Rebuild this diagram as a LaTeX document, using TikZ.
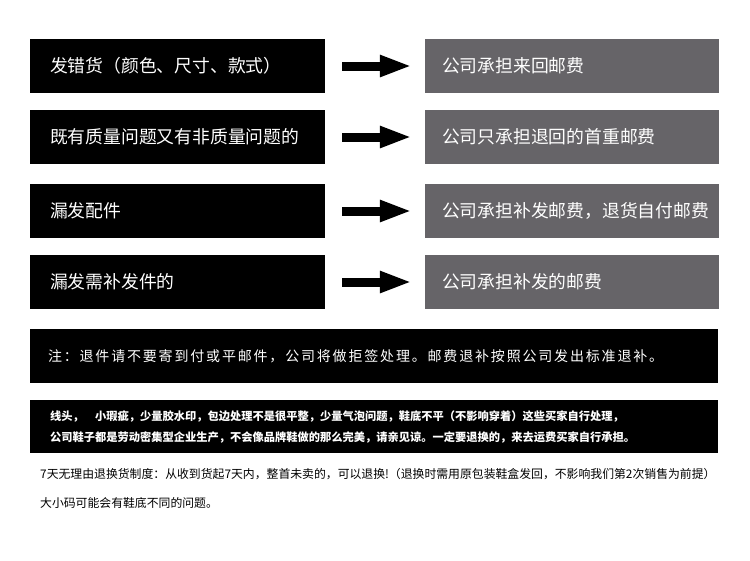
\documentclass[tikz,border=0pt]{standalone}
\usepackage{fontspec}
\setmainfont{Noto Sans CJK SC}
\newfontfamily\notefont[LetterSpace=13]{Noto Sans CJK SC}
\definecolor{costgray}{RGB}{102,100,104}
\usetikzlibrary{arrows.meta}

\begin{document}
\begin{tikzpicture}[x=1pt, y=-1pt,
    casebox/.style={fill=black, text=white, inner xsep=20pt, text width=255pt, minimum height=54pt, align=left, font=\fontsize{17.8}{21}\selectfont},
    costbox/.style={fill=costgray, text=white, inner xsep=17pt, text width=260pt, minimum height=54pt, align=left, font=\fontsize{17.8}{21}\selectfont},
    bigarrow/.style={line width=9pt, -{Triangle[length=32pt,width=20pt]}, shorten <=17pt, shorten >=13pt}]
        \path[fill=white, use as bounding box] (0,0) rectangle (750,560);
        % four cases and who pays
        \node[casebox] (case1) at (177.5,66) {发错货（颜色、尺寸、款式）};
        \node[casebox] (case2) at (177.5,137) {既有质量问题又有非质量问题的};
        \node[casebox] (case3) at (177.5,211) {漏发配件};
        \node[casebox] (case4) at (177.5,282) {漏发需补发件的};
        \node[costbox] (cost1) at (572,66) {公司承担来回邮费};
        \node[costbox] (cost2) at (572,137) {公司只承担退回的首重邮费};
        \node[costbox] (cost3) at (572,211) {公司承担补发邮费，退货自付邮费};
        \node[costbox] (cost4) at (572,282) {公司承担补发的邮费};
        \draw[bigarrow] (case1) -- (cost1);
        \draw[bigarrow] (case2) -- (cost2);
        \draw[bigarrow] (case3) -- (cost3);
        \draw[bigarrow] (case4) -- (cost4);
        % notes
        \node[fill=black, text=white, inner xsep=18pt, text width=652pt, minimum height=54pt, align=left, font=\notefont\fontsize{14}{16}\selectfont] (note) at (374,356) {注：退件请不要寄到付或平邮件，公司将做拒签处理。邮费退补按照公司发出标准退补。};
        \node[fill=black, text=white, inner xsep=20pt, text width=648pt, minimum height=53pt, align=left, font=\bfseries\fontsize{11.25}{21}\selectfont] (detail) at (374,426.5) {线头，　小瑕疵，少量胶水印，包边处理不是很平整，少量气泡问题，鞋底不平（不影响穿着）这些买家自行处理，\\公司鞋子都是劳动密集型企业生产，不会像品牌鞋做的那么完美，请亲见谅。一定要退换的，来去运费买家自行承担。};
        \node[anchor=west, inner sep=0pt, font=\fontsize{11.85}{14}\selectfont] (rule) at (40,474) {7天无理由退换货制度：从收到货起7天内，整首未卖的，可以退换!（退换时需用原包装鞋盒发回，不影响我们第2次销售为前提）};
        \node[anchor=west, inner sep=0pt, font=\fontsize{11.85}{14}\selectfont] (size) at (40,503) {大小码可能会有鞋底不同的问题。};
\end{tikzpicture}
\end{document}
